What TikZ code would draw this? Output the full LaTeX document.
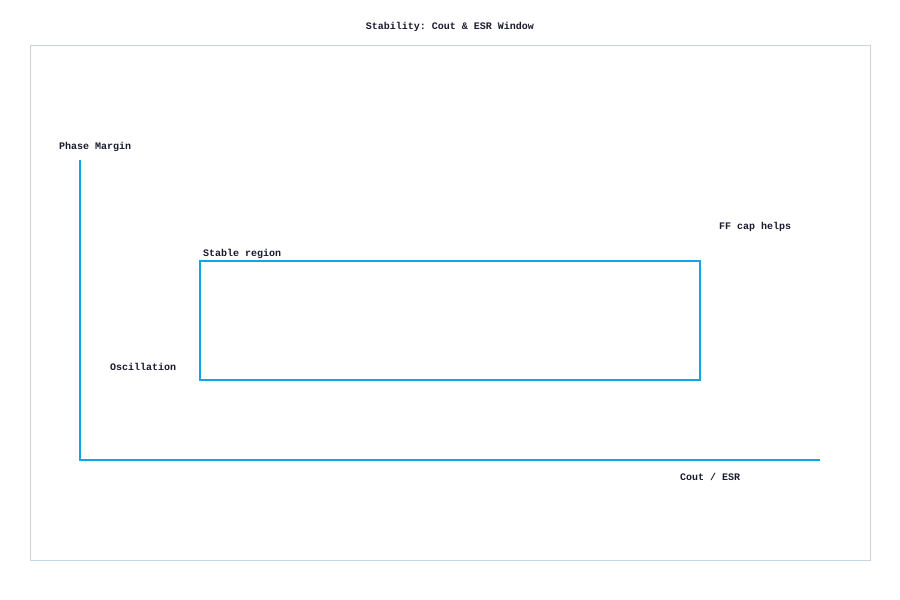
\documentclass[tikz,border=0pt]{standalone}
\usepackage{fontspec}
\setmonofont{Liberation Mono}
\definecolor{ink}{HTML}{1A1A2E}
\definecolor{axis}{HTML}{0EA5E9}
\definecolor{frame}{HTML}{C5D5E4}
\begin{document}
\begin{tikzpicture}[x=1pt,y=-1pt,
  lbl/.style={inner sep=0pt,anchor=west,text=ink,font=\ttfamily\bfseries\fontsize{10}{12}\selectfont},
  axisline/.style={draw=axis,line width=2pt},
  regionbox/.style={draw=axis,line width=2pt,rectangle,inner sep=0pt,minimum width=500pt,minimum height=119pt}]
\useasboundingbox (0,0) rectangle (900,600);
\node[draw=frame,line width=1pt,rectangle,inner sep=0pt,minimum width=840pt,minimum height=515pt] (frm) at (450,302.5) {};
\node[lbl,anchor=center] (title) at (450,27) {Stability: Cout \& ESR Window};
\coordinate (ytop) at (80,160);
\coordinate (orig) at (80,460);
\coordinate (xend) at (820,460);
\draw[axisline] (ytop) -- (orig) -- (xend);
\node[regionbox] (stable) at (450,320.5) {};
\node[lbl] (pm) at (59,147) {Phase Margin};
\node[lbl] (sr) at (203,254) {Stable region};
\node[lbl] (ff) at (719,227) {FF cap helps};
\node[lbl] (osc) at (110,367) {Oscillation};
\node[lbl] (xl) at (680,477) {Cout / ESR};
\end{tikzpicture}
\end{document}
